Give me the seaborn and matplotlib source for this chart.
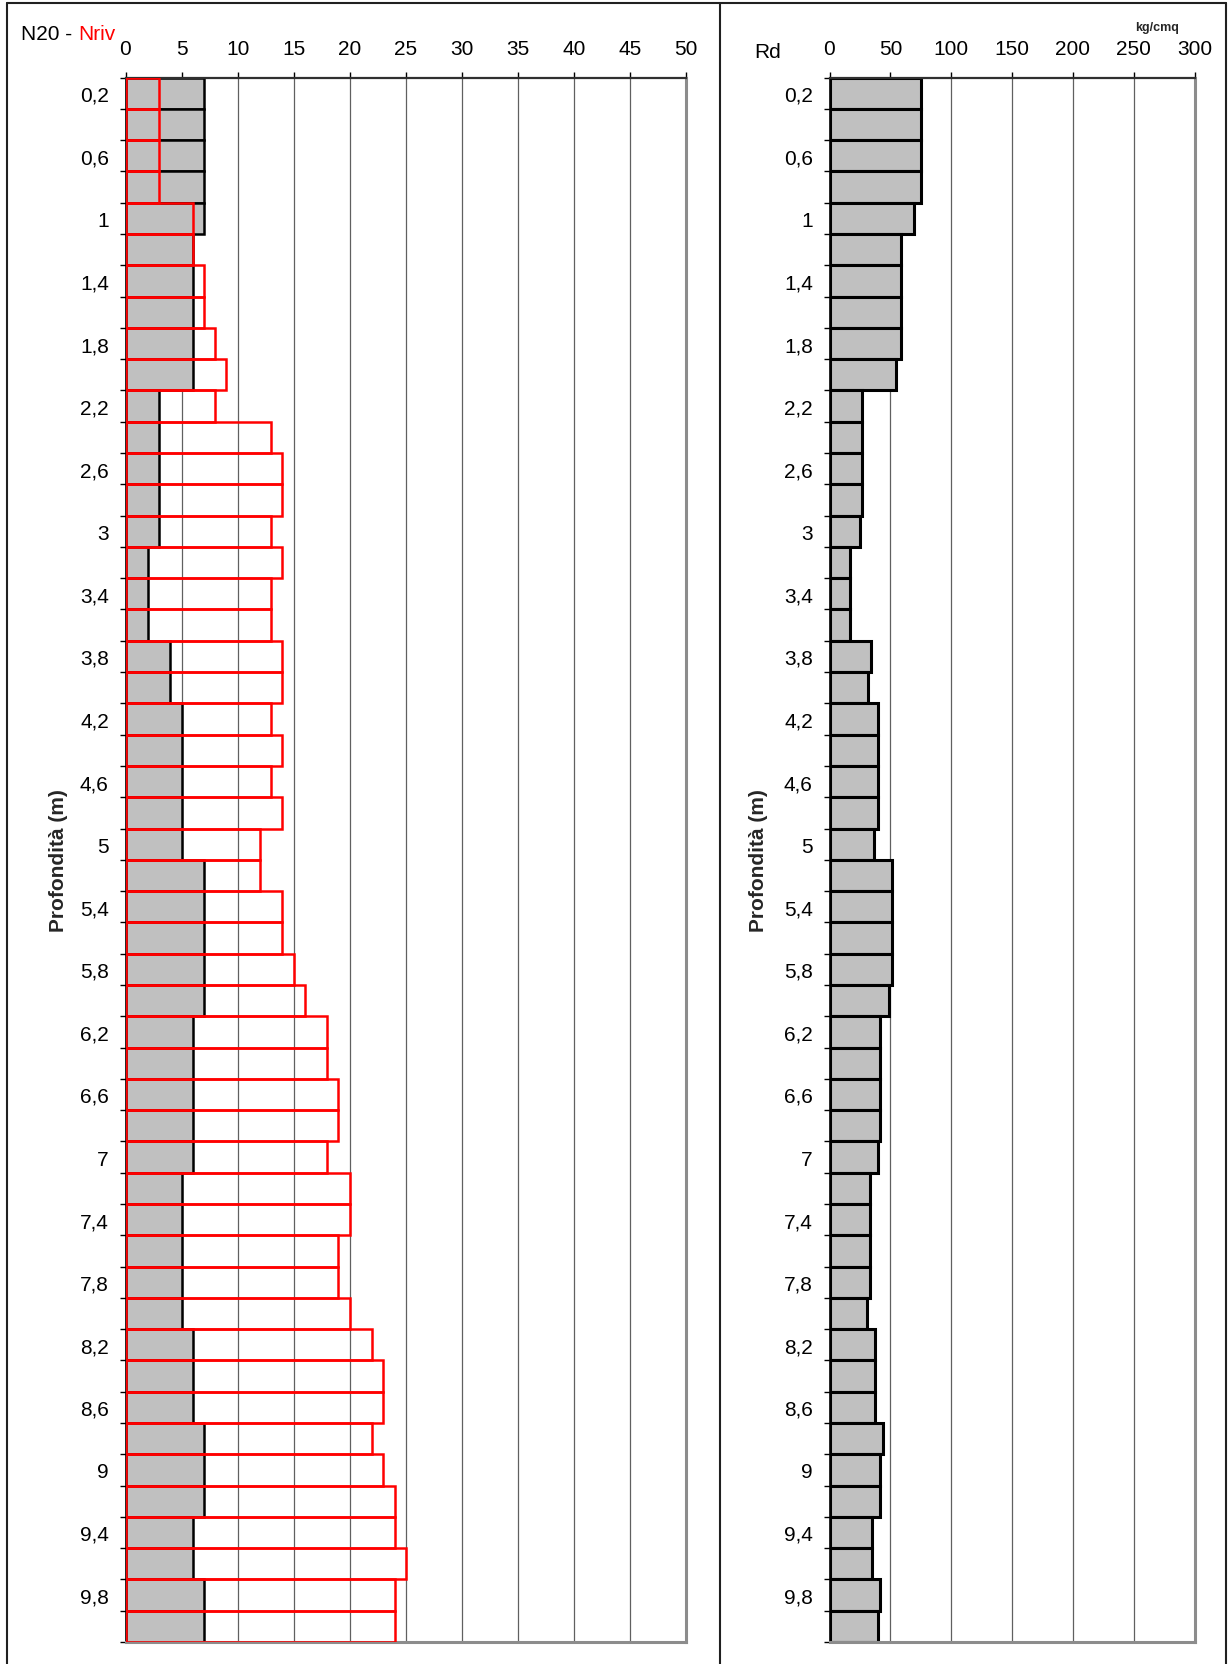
import numpy as np
import pandas as pd
import matplotlib
matplotlib.use("Agg")
import matplotlib.pyplot as plt
from matplotlib.lines import Line2D
import seaborn as sns

# Depth of each 20 cm step (m)
profondita = [0.2, 0.4, 0.6, 0.8, 1.0, 1.2, 1.4, 1.6, 1.8, 2.0,
              2.2, 2.4, 2.6, 2.8, 3.0, 3.2, 3.4, 3.6, 3.8, 4.0,
              4.2, 4.4, 4.6, 4.8, 5.0, 5.2, 5.4, 5.6, 5.8, 6.0,
              6.2, 6.4, 6.6, 6.8, 7.0, 7.2, 7.4, 7.6, 7.8, 8.0,
              8.2, 8.4, 8.6, 8.8, 9.0, 9.2, 9.4, 9.6, 9.8, 10.0]

# Blow counts N20
n20 = [7, 7, 7, 7, 7, 6, 6, 6, 6, 6,
       3, 3, 3, 3, 3, 2, 2, 2, 4, 4,
       5, 5, 5, 5, 5, 7, 7, 7, 7, 7,
       6, 6, 6, 6, 6, 5, 5, 5, 5, 5,
       6, 6, 6, 7, 7, 7, 6, 6, 7, 7]

# Reworked counts Nriv
nriv = [3, 3, 3, 3, 6, 6, 7, 7, 8, 9,
        8, 13, 14, 14, 13, 14, 13, 13, 14, 14,
        13, 14, 13, 14, 12, 12, 14, 14, 15, 16,
        18, 18, 19, 19, 18, 20, 20, 19, 19, 20,
        22, 23, 23, 22, 23, 24, 24, 25, 24, 24]

# Dynamic point resistance Rd (kg/cmq)
rd = [75.1, 75.1, 75.1, 75.1, 69.1, 58.7, 58.7, 58.7, 58.7, 54.9,
      27.0, 27.0, 27.0, 27.0, 25.3, 16.6, 16.6, 16.6, 33.8, 31.3,
      39.6, 39.6, 39.6, 39.6, 36.8, 51.5, 51.5, 51.5, 51.5, 48.6,
      41.6, 41.6, 41.6, 41.6, 39.6, 32.9, 32.9, 32.9, 32.9, 30.9,
      37.2, 37.2, 37.2, 43.6, 41.4, 41.4, 35.3, 35.3, 41.6, 39.6]

n_ticks = [0, 5, 10, 15, 20, 25, 30, 35, 40, 45, 50]
rd_ticks = [0, 50, 100, 150, 200, 250, 300]


def fmt_depth(v):
    s = f"{v:.1f}"
    if s.endswith(".0"):
        s = s[:-2]
    return s.replace(".", ",")


labels = [fmt_depth(v) for v in profondita]
df = pd.DataFrame({"prof": labels, "N20": n20, "Nriv": nriv, "Rd": rd})

sns.set_theme(style="white")
plt.rcParams["font.family"] = ["Liberation Sans", "DejaVu Sans"]

FS = 15
W, H = 1231, 1665
fig = plt.figure(figsize=(W / 100, H / 100), dpi=100)
fig.patch.set_facecolor("white")

ax1 = fig.add_axes([125.5 / W, 1 - 1643 / H, 560.5 / W, (1643 - 78.6) / H])
ax2 = fig.add_axes([829.5 / W, 1 - 1643 / H, 365.2 / W, (1643 - 78.6) / H])

GRAY = "#c0c0c0"

sns.barplot(data=df, x="N20", y="prof", orient="h", color=GRAY,
            edgecolor="black", linewidth=1.8, width=1, saturation=1,
            ax=ax1, zorder=2)
sns.barplot(data=df, x="Nriv", y="prof", orient="h", color="red",
            fill=False, edgecolor="red", linewidth=1.8, width=1,
            saturation=1, ax=ax1, zorder=3)
sns.barplot(data=df, x="Rd", y="prof", orient="h", color=GRAY,
            edgecolor="black", linewidth=2.2, width=1, saturation=1,
            ax=ax2, zorder=2)

n = len(labels)
for ax, xmax, ticks in [(ax1, 50, n_ticks), (ax2, 300, rd_ticks)]:
    ax.set_xlim(0, xmax)
    ax.set_ylim(n - 0.5, -0.5)
    ax.set_xlabel("")
    ax.set_ylabel("")
    ax.xaxis.tick_top()
    ax.set_xticks(ticks)
    ax.set_xticklabels([str(t) for t in ticks])
    ax.tick_params(axis="x", which="major", top=True, bottom=False,
                   direction="out", length=4, width=1, pad=10,
                   labelsize=FS, colors="black")
    # boundary ticks between steps, labels on every other step
    ax.set_yticks(np.arange(-0.5, n, 1))
    ax.set_yticklabels([])
    ax.set_yticks(np.arange(0, n, 2), minor=True)
    ax.set_yticklabels(labels[::2], minor=True)
    ax.tick_params(axis="y", which="major", left=True, direction="out",
                   length=4, width=1, color="black")
    ax.tick_params(axis="y", which="minor", left=True, length=0, pad=12,
                   labelsize=FS, labelcolor="black")
    ax.grid(axis="x", color="#606060", linewidth=0.9)
    ax.grid(axis="y", visible=False)
    ax.set_axisbelow(True)
    ax.spines["top"].set_color("#303030")
    ax.spines["top"].set_linewidth(1.6)
    ax.spines["left"].set_color("black")
    ax.spines["left"].set_linewidth(1.2)
    for s in ("right", "bottom"):
        ax.spines[s].set_color("#8c8c8c")
        ax.spines[s].set_linewidth(2.2)
    for s in ax.spines.values():
        s.set_visible(True)

# Panel titles and axis names
t = fig.text(21 / W, 1 - 35 / H, "N20 - ", fontsize=FS, color="black",
             ha="left", va="center")
ax1.annotate("Nriv", xy=(1, 0.5), xycoords=t, fontsize=FS, color="red",
             ha="left", va="center")
fig.text(754 / W, 1 - 52 / H, "Rd", fontsize=FS, color="black",
         ha="left", va="center")
fig.text(1157 / W, 1 - 28 / H, "kg/cmq", fontsize=9, fontweight="bold",
         ha="center", va="center")
for xpix in (58, 759):
    fig.text(xpix / W, 1 - 861 / H, "Profondità (m)", rotation=90,
             fontsize=15, fontweight="bold", ha="center", va="center")

# Panel frames
frame_kw = dict(color="#202020", linewidth=1.5, transform=fig.transFigure)
fig.add_artist(Line2D([7 / W, 1226 / W], [1 - 3.5 / H, 1 - 3.5 / H], **frame_kw))
fig.add_artist(Line2D([7 / W, 7 / W], [0, 1 - 3.5 / H], **frame_kw))
fig.add_artist(Line2D([720 / W, 720 / W], [0, 1 - 3.5 / H], **frame_kw))
fig.add_artist(Line2D([1226 / W, 1226 / W], [0, 1 - 3.5 / H], **frame_kw))

fig.savefig("out.png", dpi=100, facecolor="white")
